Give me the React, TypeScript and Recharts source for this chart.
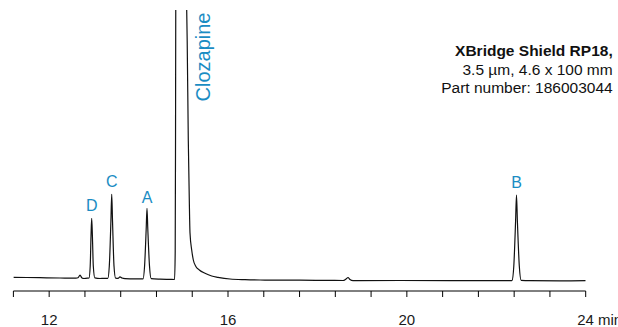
import { ComposedChart, Line, XAxis, YAxis, ReferenceDot } from "recharts";

const FONT = "'Liberation Sans', Arial, sans-serif";
const BLUE = "#1a8cc3";

// retention time (min) and detector signal (arbitrary units)
const retentionTimes = [
  11.2, 11.795, 12.242, 12.6, 12.645, 12.69, 12.734, 12.779, 12.824,
  12.891, 12.918, 12.936, 12.951, 12.967, 12.987, 13.021,
  13.137, 13.226,
  13.311, 13.345, 13.381, 13.399, 13.417, 13.45, 13.486,
  13.54, 13.584, 13.629, 13.696, 13.92,
  14.099, 14.134, 14.17, 14.188, 14.206, 14.244, 14.282,
  14.479, 14.703, 14.805,
  14.819, 14.826, 14.832, 14.949, 15.069, 15.076, 15.087, 15.112, 15.134,
  15.15, 15.188, 15.224, 15.284, 15.358, 15.485, 15.635, 15.776, 16.045,
  16.38, 16.716, 17.61, 18.281, 18.572, 18.639, 18.684, 18.728, 18.796,
  19.847, 20.965, 22.083, 22.329,
  22.352, 22.392, 22.432, 22.452, 22.472, 22.515, 22.557,
  22.754, 23.425, 24.0,
];
const signal = [
  13.7, 13.3, 13.0, 12.8, 13.2, 15.8, 13.0, 12.5, 12.7,
  13.0, 25, 55, 72.7, 55, 25, 13.2,
  12.5, 12.7,
  12.6, 25, 70, 96.7, 70, 25, 12.8,
  12.6, 14.2, 13.0, 12.4, 12.1,
  12.2, 25, 62, 82.7, 62, 25, 12.3,
  11.8, 11.6, 11.5,
  40, 150, 300, 900, 300, 281, 250, 150, 91,
  58, 41, 31, 24.3, 21, 17.7, 15, 13.7, 12,
  11.3, 11, 10.8, 10.6, 10.5, 12, 13.5, 11.5, 10.4,
  10.5, 10.4, 10.3, 10.3,
  10.5, 25, 70, 96, 70, 25, 10.6,
  10.3, 10.2, 10.3,
];

const peakNames = ["D", "C", "A", "B"];
const peakTimes = [12.951, 13.399, 14.188, 22.452];
const peakHeights = [72.7, 96.7, 82.7, 96];

const xTicks = [11.2, 12, 12.8, 13.6, 14.4, 15.2, 16, 16.8, 17.6, 18.4, 19.2, 20, 20.8, 21.6, 22.4, 23.2, 24];
const labeledTicks = [12, 16, 20, 24];

const columnInfo = ["XBridge Shield RP18,", "3.5 µm, 4.6 x 100 mm", "Part number: 186003044"];

const data = retentionTimes.map((t, i) => ({ t, signal: signal[i] }));

function TimeTick({ x, y, payload }: any) {
  const v = payload.value;
  if (!labeledTicks.some((l) => Math.abs(l - v) < 1e-6)) return null;
  if (Math.abs(v - 24) < 1e-6) {
    return (
      <text x={x - 8.5} y={y} dy="0.71em" textAnchor="start" fontSize={15} fontFamily={FONT} fill="#1a1a1a">
        24 min
      </text>
    );
  }
  return (
    <text x={x} y={y} dy="0.71em" textAnchor="middle" fontSize={15} fontFamily={FONT} fill="#1a1a1a">
      {v}
    </text>
  );
}

export default function App() {
  return (
    <div style={{ position: "absolute", left: 0, top: 0, width: 618, height: 327, background: "#fff", fontFamily: FONT }}>
      <ComposedChart width={618} height={327} data={data} margin={{ top: 10, right: 32.3, bottom: 6, left: 13.4 }}>
        <XAxis
          dataKey="t"
          type="number"
          domain={[11.2, 24]}
          ticks={xTicks}
          interval={0}
          height={30}
          tickSize={6}
          tickMargin={17}
          axisLine={{ stroke: "#000", strokeWidth: 1 }}
          tickLine={{ stroke: "#000", strokeWidth: 1 }}
          tick={<TimeTick />}
          allowDataOverflow
        />
        <YAxis hide type="number" domain={[0, 281]} allowDataOverflow />
        <Line
          type="monotone"
          dataKey="signal"
          stroke="#111"
          strokeWidth={1.2}
          dot={false}
          isAnimationActive={false}
        />
        {peakNames.map((name, i) => (
          <ReferenceDot
            key={name}
            x={peakTimes[i]}
            y={peakHeights[i]}
            r={0}
            fill="none"
            stroke="none"
            label={{ value: name, position: "top", offset: name === "A" ? 5 : 7, fill: BLUE, fontSize: 16, fontFamily: FONT }}
          />
        ))}
        <ReferenceDot
          x={15.44}
          y={234}
          r={0}
          fill="none"
          stroke="none"
          label={{ value: "Clozapine", position: "center", angle: -90, fill: BLUE, fontSize: 20, fontFamily: FONT }}
        />
      </ComposedChart>
      <div
        style={{
          position: "absolute",
          top: 42,
          right: 5.3,
          textAlign: "right",
          fontSize: 15.5,
          lineHeight: "18.7px",
          color: "#111",
          whiteSpace: "nowrap",
        }}
      >
        {columnInfo.map((line, i) => (
          <div key={i} style={{ fontWeight: i === 0 ? "bold" : "normal" }}>
            {line}
          </div>
        ))}
      </div>
    </div>
  );
}
